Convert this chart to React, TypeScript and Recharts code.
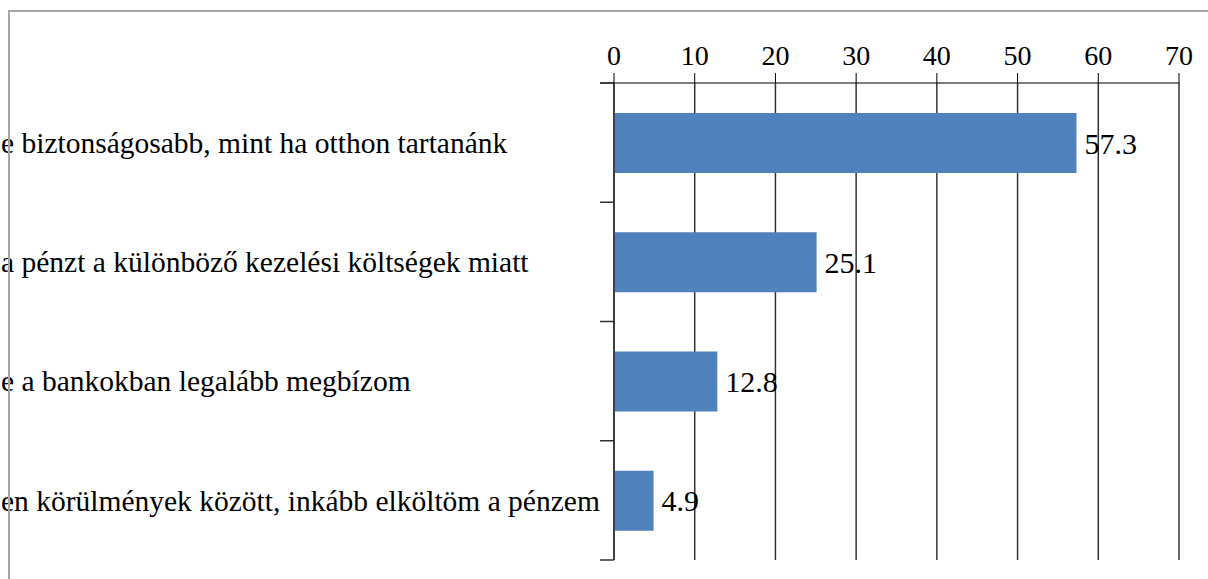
import { Bar, BarChart, CartesianGrid, LabelList, XAxis, YAxis } from "recharts";

const CATEGORIES = [
  "e biztonságosabb, mint ha otthon tartanánk",
  "a pénzt a különböző kezelési költségek miatt",
  "e a bankokban legalább megbízom",
  "en körülmények között, inkább elköltöm a pénzem",
];
const VALUES = [57.3, 25.1, 12.8, 4.9];
const X_TICKS = [0, 10, 20, 30, 40, 50, 60, 70];

const WIDTH = 1208;
const HEIGHT = 579;
const PLOT_LEFT = 614;
const PLOT_TOP = 83;
const PLOT_BOTTOM = 560;
const BAND = (PLOT_BOTTOM - PLOT_TOP) / CATEGORIES.length;
const FONT = "Liberation Serif";

const rows = CATEGORIES.map((name, i) => ({ name, value: VALUES[i] }));

function CategoryTick(props: any) {
  const { y, payload, index } = props;
  return (
    <g>
      {index === 0 && (
        <line x1={PLOT_LEFT - 14} x2={PLOT_LEFT} y1={y - BAND / 2} y2={y - BAND / 2} stroke="#000" strokeWidth={1.5} />
      )}
      <line x1={PLOT_LEFT - 14} x2={PLOT_LEFT} y1={y + BAND / 2} y2={y + BAND / 2} stroke="#333" strokeWidth={1.5} />
      <text x={1} y={y} dy="0.35em" textAnchor="start" style={{ fontSize: 29.5, fontFamily: FONT, fill: "#000" }}>
        {payload.value}
      </text>
    </g>
  );
}

function XTick(props: any) {
  const { x, y, payload } = props;
  return (
    <text x={x} y={y} textAnchor="middle" style={{ fontSize: 28, fontFamily: FONT, fill: "#000" }}>
      {payload.value}
    </text>
  );
}

export default function App() {
  return (
    <div style={{ position: "absolute", left: 0, top: 0, width: WIDTH, height: HEIGHT, background: "#fff" }}>
      <BarChart
        width={WIDTH}
        height={HEIGHT}
        data={rows}
        layout="vertical"
        margin={{ top: 0, right: WIDTH - 1179, bottom: HEIGHT - PLOT_BOTTOM, left: 0 }}
      >
        <CartesianGrid horizontal={false} stroke="#333" strokeWidth={1.5} />
        <XAxis
          type="number"
          orientation="top"
          domain={[0, 70]}
          ticks={X_TICKS}
          height={PLOT_TOP}
          tickSize={10}
          tickMargin={8}
          stroke="#000"
          tick={<XTick />}
        />
        <YAxis
          type="category"
          dataKey="name"
          width={PLOT_LEFT}
          tickLine={false}
          stroke="#333"
          strokeWidth={1.5}
          tick={<CategoryTick />}
          interval={0}
        />
        <Bar dataKey="value" fill="#4f81bd" barSize={60} isAnimationActive={false}>
          <LabelList
            dataKey="value"
            position="right"
            offset={8}
            style={{ fontSize: 30, fontFamily: FONT, fill: "#000" }}
          />
        </Bar>
      </BarChart>
      <div
        style={{
          position: "absolute",
          left: 8,
          top: 10,
          width: WIDTH - 8,
          height: HEIGHT - 10,
          borderTop: "2px solid #a6a6a6",
          borderLeft: "2px solid #a6a6a6",
          boxSizing: "border-box",
          pointerEvents: "none",
        }}
      />
    </div>
  );
}
